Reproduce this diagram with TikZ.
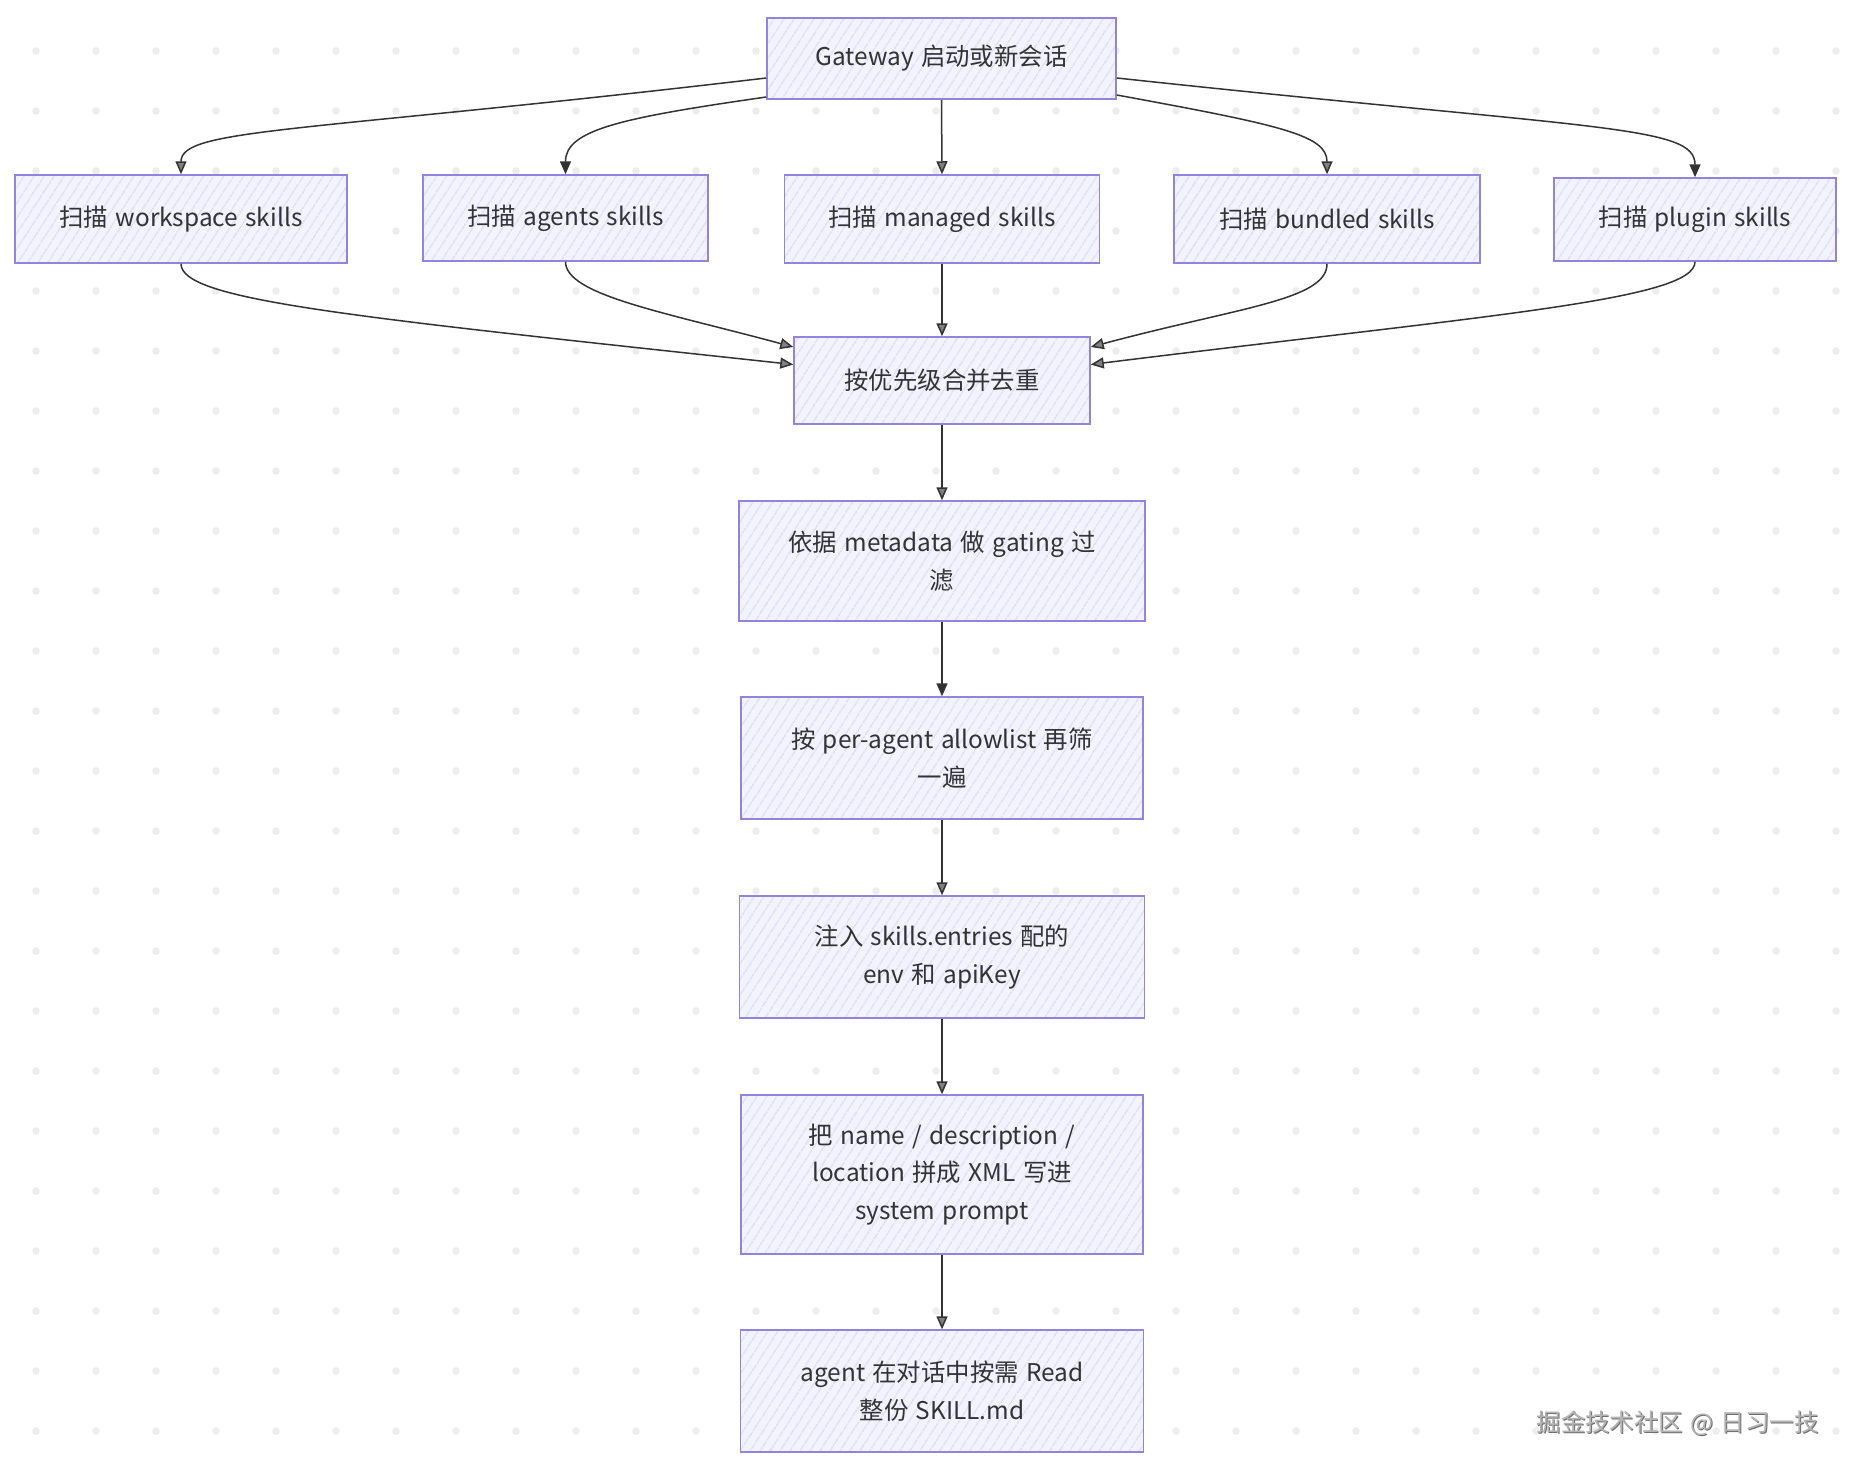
\documentclass[tikz,border=0pt]{standalone}
\usepackage{fontspec}
\setmainfont{Noto Sans CJK SC}[WordSpace=1.35]
\usetikzlibrary{arrows.meta,patterns.meta,calc}
\definecolor{boxfill}{HTML}{F3F3FF}
\definecolor{hatch}{HTML}{DCDCF8}
\definecolor{boxline}{HTML}{9483DC}
\definecolor{txt}{HTML}{333333}
\definecolor{dotc}{HTML}{EDEDED}
\definecolor{edgec}{HTML}{333333}
\definecolor{wmark}{HTML}{B4B4B4}
\definecolor{wshadow}{HTML}{6E6E6E}
\begin{document}
\begin{tikzpicture}[x=0.5pt,y=-0.5pt,
  box/.style={draw=boxline, line width=0.75pt, preaction={fill=boxfill},
    pattern={Lines[angle=57,distance=4pt,line width=0.8pt]}, pattern color=hatch,
    inner sep=0pt, align=center, text=txt,
    font=\fontsize{12.2pt}{18.8pt}\selectfont},
  hflow/.style={draw=edgec, line width=0.75pt,
    -{Triangle[length=6.5pt,width=5.5pt,fill=black!50]}},
  fflow/.style={draw=edgec, line width=0.75pt,
    -{Triangle[length=6.5pt,width=5.5pt]}},
  wm/.style={font=\fontsize{12.2pt}{14pt}\selectfont, inner sep=0pt}
]
\useasboundingbox (0,0) rectangle (1856,1472);
\fill[white] (0,0) rectangle (1856,1472);
% dot grid
\foreach \i in {0,...,30}{
  \foreach \j in {0,...,23}{
    \fill[dotc] (36+60*\i,51+60*\j) circle (1.9pt);
  }
}
% nodes
\node[box, minimum width=174.5pt, minimum height=40.5pt] (gw) at (941.5,58.5) {Gateway 启动或新会话};
\node[box, minimum width=166pt, minimum height=44pt] (ws) at (181,219) {扫描 workspace skills};
\node[box, minimum width=142.5pt, minimum height=43pt] (ag) at (565.5,218) {扫描 agents skills};
\node[box, minimum width=157.5pt, minimum height=44pt] (mg) at (942,219) {扫描 managed skills};
\node[box, minimum width=153pt, minimum height=44pt] (bd) at (1327,219) {扫描 bundled skills};
\node[box, minimum width=141pt, minimum height=41.5pt] (pl) at (1695,219.5) {扫描 plugin skills};
\node[box, minimum width=148pt, minimum height=43.5pt] (mr) at (942,380.5) {按优先级合并去重};
\node[box, minimum width=203pt, minimum height=60pt] (gt) at (942,561) {依据 metadata 做 gating 过\\滤};
\node[box, minimum width=201pt, minimum height=61pt] (al) at (942,758) {按 per-agent allowlist 再筛\\一遍};
\node[box, minimum width=202.5pt, minimum height=61pt] (inj) at (942,957) {注入 skills.entries 配的\\env 和 apiKey};
\node[box, minimum width=201pt, minimum height=79.5pt] (xm) at (942,1174.5) {把 name / description /\\location 拼成 XML 写进\\system prompt};
\node[box, minimum width=201.5pt, minimum height=61pt] (rd) at (942,1391) {agent 在对话中按需 Read\\整份 SKILL.md};
% edges from gateway
\draw[hflow] ($(gw.west)+(0,19.5)$) .. controls (300,133) and (181,128) .. (ws.north);
\draw[fflow] ($(gw.west)+(0,38.5)$) .. controls (620,118) and (565.5,130) .. (ag.north);
\draw[hflow] (gw.south) -- (mg.north);
\draw[hflow] ($(gw.east)+(0,36.5)$) .. controls (1280,125) and (1327,135) .. (bd.north);
\draw[fflow] ($(gw.east)+(0,19.5)$) .. controls (1600,130) and (1695,125) .. (pl.north);
% edges to merge
\draw[hflow] (ws.south) .. controls (181,300) and (344,316) .. ($(mr.west)+(0,-16)$);
\draw[hflow] (ag.south) .. controls (565.5,295) and (664,312) .. ($(mr.west)+(0,-33.5)$);
\draw[hflow] (mg.south) -- (mr.north);
\draw[hflow] (bd.south) .. controls (1327,300) and (1240,307) .. ($(mr.east)+(0,-33.5)$);
\draw[hflow] (pl.south) .. controls (1695,300) and (1490,315) .. ($(mr.east)+(0,-16)$);
% chain
\draw[hflow] (mr.south) -- (gt.north);
\draw[fflow] (gt.south) -- (al.north);
\draw[hflow] (al.south) -- (inj.north);
\draw[hflow] (inj.south) -- (xm.north);
\draw[hflow] (xm.south) -- (rd.north);
% watermark
\node[wm, text=wshadow] (wms) at (1678.5,1424.5) {掘金技术社区 @ 日习一技};
\node[wm, text=wmark] (wmt) at (1677.5,1423.5) {掘金技术社区 @ 日习一技};
\end{tikzpicture}
\end{document}
